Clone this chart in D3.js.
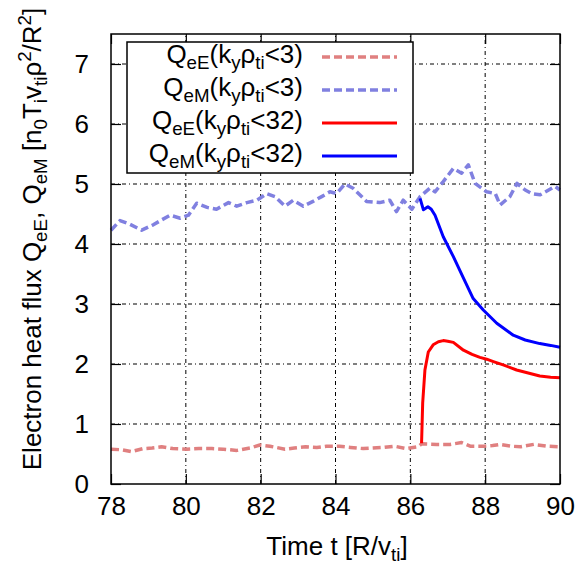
<!DOCTYPE html>
<html><head><meta charset="utf-8">
<script src="https://cdn.jsdelivr.net/npm/d3@7"></script>
<style>body{margin:0;background:#fff} svg{display:block} text{font-family:"Liberation Sans",Arial,sans-serif}</style>
</head><body><svg id="c" width="587" height="566"></svg>
<script>
const xTicks=[78,80,82,84,86,88,90];
const yTicks=[0,1,2,3,4,5,6,7];

// Q_eE (k_y rho_ti < 3)
const tEk3=[78.0,78.3,78.55,78.86,79.1,79.35,79.65,80.02,80.35,80.7,81.0,81.36,81.72,81.98,82.25,82.65,82.9,83.2,83.5,83.76,84.1,84.4,84.74,85.0,85.3,85.57,85.9,86.2,86.3,86.7,87.06,87.37,87.6,87.97,88.2,88.4,88.7,88.95,89.3,89.66,90.0];
const qEk3=[0.58,0.57,0.54,0.59,0.60,0.62,0.59,0.58,0.59,0.59,0.58,0.56,0.60,0.65,0.63,0.58,0.60,0.62,0.61,0.63,0.63,0.61,0.59,0.60,0.61,0.63,0.59,0.62,0.67,0.66,0.66,0.69,0.63,0.63,0.64,0.66,0.63,0.62,0.66,0.63,0.62];

// Q_eM (k_y rho_ti < 3)
const tMk3=[78.0,78.24,78.5,78.82,79.13,79.35,79.58,79.85,80.07,80.29,80.57,80.82,81.14,81.36,81.63,81.9,82.16,82.38,82.65,82.87,83.14,83.4,83.63,83.85,84.03,84.25,84.47,84.83,85.18,85.45,85.63,85.81,86.04,86.26,86.52,86.66,86.88,87.15,87.37,87.55,87.73,88.04,88.27,88.4,88.66,88.85,89.07,89.25,89.47,89.87,90.0];
const qMk3=[4.23,4.39,4.33,4.23,4.32,4.40,4.48,4.43,4.48,4.68,4.61,4.58,4.69,4.63,4.69,4.73,4.84,4.79,4.63,4.73,4.63,4.71,4.79,4.87,4.84,5.00,4.93,4.71,4.69,4.73,4.54,4.73,4.58,4.79,4.93,4.87,5.04,5.26,5.18,5.32,5.01,4.87,4.84,4.65,4.79,5.01,4.90,4.84,4.82,4.96,4.90];

// Q_eE (k_y rho_ti < 32)
const tEk32=[86.3,86.33,86.39,86.48,86.61,86.75,86.88,87.0,87.15,87.42,87.65,87.86,88.04,88.22,88.5,88.84,89.15,89.46,89.75,90.0];
const qEk32=[0.68,1.35,1.90,2.20,2.32,2.37,2.39,2.38,2.36,2.23,2.16,2.11,2.08,2.04,1.98,1.90,1.85,1.80,1.78,1.77];

// Q_eM (k_y rho_ti < 32)
const tMk32=[86.26,86.35,86.47,86.56,86.66,86.88,87.15,87.42,87.68,87.95,88.31,88.75,89.07,89.46,89.75,90.0];
const qMk32=[4.76,4.57,4.62,4.58,4.48,4.12,3.79,3.43,3.09,2.90,2.68,2.48,2.40,2.34,2.31,2.28];

const svg=d3.select("#c");
const x=d3.scaleLinear().domain([78,90]).range([111,560]);
const y=d3.scaleLinear().domain([0,7.5]).range([484,34]);
const FS=26, SS=FS*0.72;

// grid
const g=svg.append("g");
xTicks.slice(1,-1).forEach(v=>g.append("line").attr("x1",x(v)).attr("x2",x(v)).attr("y1",y(0)).attr("y2",y(7.5))
  .attr("stroke","#000").attr("stroke-width",1).attr("stroke-dasharray","4,3,1,3"));
yTicks.slice(1).forEach(v=>g.append("line").attr("x1",x(78)).attr("x2",x(90)).attr("y1",y(v)).attr("y2",y(v))
  .attr("stroke","#000").attr("stroke-width",1).attr("stroke-dasharray","4,3,1,3"));

// axes
const ax=(gen,tr)=>{const a=svg.append("g").attr("transform",tr).call(gen);a.select(".domain").remove();
  a.selectAll("line").attr("stroke","#000").attr("stroke-width",1.2);
  a.selectAll("text").attr("font-size",FS).attr("fill","#000").attr("font-family","Liberation Sans, Arial, sans-serif");return a;};
ax(d3.axisBottom(x).tickValues(xTicks).tickSize(-10).tickPadding(13).tickFormat(d3.format("d")),`translate(0,${y(0)})`);
ax(d3.axisTop(x).tickValues(xTicks).tickSize(-10).tickFormat(""),`translate(0,${y(7.5)})`);
ax(d3.axisLeft(y).tickValues(yTicks).tickSize(-10).tickPadding(22).tickFormat(d3.format("d")),`translate(${x(78)},0)`);
ax(d3.axisRight(y).tickValues(yTicks).tickSize(-10).tickFormat(""),`translate(${x(90)},0)`);

// lines
const line=d3.line().x(d=>x(d[0])).y(d=>y(d[1]));
const series=[
  {t:tEk3,q:qEk3,c:"#e08080",w:3.5,d:"8,4"},
  {t:tMk3,q:qMk3,c:"#8080e0",w:3.5,d:"8,4"},
  {t:tEk32,q:qEk32,c:"#ff0000",w:3,d:null},
  {t:tMk32,q:qMk32,c:"#0000ff",w:3,d:null}
];
series.forEach(s=>svg.append("path").datum(d3.zip(s.t,s.q)).attr("d",line).attr("fill","none")
  .attr("stroke",s.c).attr("stroke-width",s.w).attr("stroke-dasharray",s.d).attr("stroke-linejoin","round"));

// frame
svg.append("rect").attr("x",x(78)).attr("y",y(7.5)).attr("width",x(90)-x(78)).attr("height",y(0)-y(7.5))
  .attr("fill","none").attr("stroke","#000").attr("stroke-width",1.5);

// legend
const legLabels=[["Q","eE","3"],["Q","eM","3"],["Q","eE","32"],["Q","eM","32"]];
const leg=svg.append("g");
leg.append("rect").attr("x",127).attr("y",42).attr("width",286).attr("height",131).attr("fill","#fff").attr("stroke","#000").attr("stroke-width",1.5);
legLabels.forEach((l,i)=>{
  const ly=57+i*33;
  const t=leg.append("text").attr("x",303).attr("y",ly+6).attr("text-anchor","end").attr("font-size",FS);
  t.append("tspan").text(l[0]);
  t.append("tspan").attr("font-size",SS).attr("dy",6).text(l[1]);
  t.append("tspan").attr("dy",-6).text("(k");
  t.append("tspan").attr("font-size",SS).attr("dy",6).text("y");
  t.append("tspan").attr("dy",-6).text("ρ");
  t.append("tspan").attr("font-size",SS).attr("dy",6).text("ti");
  t.append("tspan").attr("dy",-6).text("<"+l[2]+")");
  const s=series[i];
  leg.append("line").attr("x1",322).attr("x2",397).attr("y1",ly).attr("y2",ly).attr("stroke",s.c).attr("stroke-width",s.w).attr("stroke-dasharray",s.d);
});

// x label
const xl=svg.append("text").attr("x",337).attr("y",555).attr("text-anchor","middle").attr("font-size",FS);
xl.append("tspan").text("Time t [R/v");
xl.append("tspan").attr("font-size",SS).attr("dy",6).text("ti");
xl.append("tspan").attr("dy",-6).text("]");

// y label
const yl=svg.append("text").attr("transform","translate(41,239) rotate(-90)").attr("text-anchor","middle").attr("font-size",FS);
const parts=[["Electron heat flux Q",0],["eE",1],[", Q",0],["eM",1],[" [n",0],["0",1],["T",0],["i",1],["v",0],["ti",1],["ρ",0],["2",2],["/R",0],["2",2],["]",0]];
let cur=0;
parts.forEach(([s,k])=>{
  const off=k===1?6:(k===2?-10:0);
  const sp=yl.append("tspan").text(s).attr("dy",off-cur);
  if(k) sp.attr("font-size",SS);
  cur=off;
});
</script></body></html>
